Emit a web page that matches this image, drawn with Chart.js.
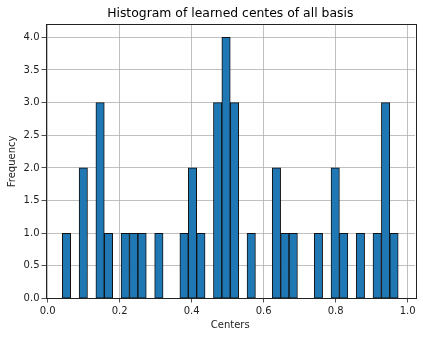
<!DOCTYPE html>
<html>
<head>
<meta charset="utf-8">
<script src="https://cdn.jsdelivr.net/npm/chart.js@4/dist/chart.umd.min.js"></script>
<style>
  html, body { margin: 0; padding: 0; background: #fff; }
  #wrap { width: 423px; height: 338px; }
</style>
</head>
<body>
<div id="wrap"><canvas id="hist"></canvas></div>
<script>
// DATA

const binMin = 0.0406;
const binMax = 0.9739;
const counts = [1, 0, 2, 0, 3, 1, 0, 1, 1, 1,
    0, 1, 0, 0, 1, 2, 1, 0, 3, 4,
    3, 0, 1, 0, 0, 2, 1, 1, 0, 0,
    1, 0, 2, 1, 0, 1, 0, 1, 3, 1];
const xTicks = [0.0, 0.2, 0.4, 0.6, 0.8, 1.0];
const yTicks = [0.0, 0.5, 1.0, 1.5, 2.0, 2.5, 3.0, 3.5, 4.0];

// bins like matplotlib: equal width between min and max
const binWidth = (binMax - binMin) / counts.length;
const points = counts.map((c, i) => ({ x: binMin + (i + 0.5) * binWidth, y: c }));
const margin = 0.05 * (binMax - binMin);

const font = { family: 'DejaVu Sans', size: 10 };
const textColor = '#222';

// matplotlib-style box around the plot
const frame = {
    id: 'frame',
    afterDraw(chart) {
        const { ctx, chartArea: a } = chart;
        ctx.save();
        ctx.strokeStyle = '#222';
        ctx.lineWidth = 1;
        ctx.strokeRect(Math.round(a.left) + 0.5, Math.round(a.top) + 0.5,
            Math.round(a.right - a.left), Math.round(a.bottom - a.top));
        ctx.restore();
    }
};

new Chart(document.getElementById('hist'), {
    type: 'bar',
    data: {
        datasets: [{
            data: points,
            backgroundColor: '#1f77b4',
            borderColor: '#111',
            borderWidth: 1,
            borderSkipped: false,
            barPercentage: 1,
            categoryPercentage: 1
        }]
    },
    options: {
        responsive: true,
        maintainAspectRatio: false,
        animation: false,
        layout: { padding: { left: 0, right: 8, top: 0, bottom: 0 } },
        plugins: {
            legend: { display: false },
            tooltip: { enabled: false },
            title: {
                display: true,
                fullSize: false,
                text: 'Histogram of learned centes of all basis',
                color: '#000',
                font: { family: 'DejaVu Sans', size: 12.4, weight: 'normal' },
                padding: { top: 6, bottom: 3.4 }
            }
        },
        scales: {
            x: {
                type: 'linear',
                z: 1,
                offset: false,
                min: binMin - margin,
                max: binMax + margin,
                afterBuildTicks: axis => { axis.ticks = xTicks.map(v => ({ value: v })); },
                afterFit: axis => { axis.height = 39.5; },
                grid: { color: '#b0b0b0', lineWidth: 0.8, offset: false, tickLength: 4, tickColor: '#222' },
                border: { display: false },
                ticks: { color: textColor, font: font, padding: 3, maxRotation: 0,
                    callback: v => v.toFixed(1) },
                title: { display: true, text: 'Centers', color: textColor, font: font,
                    padding: { top: 0, bottom: 7 } }
            },
            y: {
                z: 1,
                min: 0,
                max: 4.2,
                afterBuildTicks: axis => { axis.ticks = yTicks.map(v => ({ value: v })); },
                afterFit: axis => { axis.width = 45.5; },
                grid: { color: '#b0b0b0', lineWidth: 0.8, tickLength: 4, tickColor: '#222' },
                border: { display: false },
                ticks: { color: textColor, font: font, padding: 2,
                    callback: v => v.toFixed(1) },
                title: { display: true, text: 'Frequency', color: textColor, font: font,
                    padding: { top: 6.5, bottom: 0 } }
            }
        }
    },
    plugins: [frame]
});
</script>
</body>
</html>
